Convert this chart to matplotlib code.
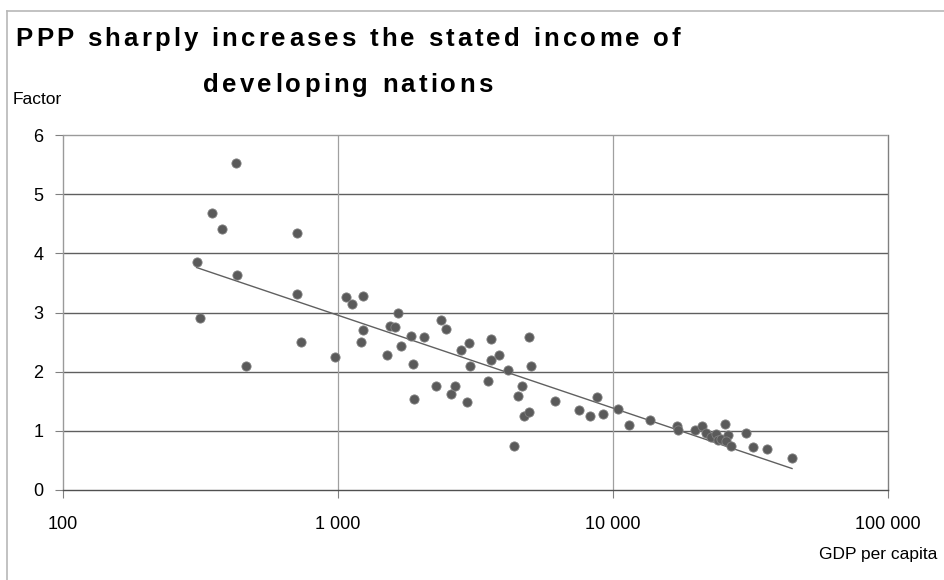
import matplotlib.pyplot as plt
from matplotlib.lines import Line2D
from matplotlib.ticker import FixedLocator, FuncFormatter
from matplotlib.font_manager import FontProperties, findfont, get_font
import numpy as np

# GDP per capita (US$) and PPP factor per country
gdp = [306, 314, 348, 380, 427, 430, 462, 712, 712, 736,
       977, 1071, 1120, 1228, 1228, 1215, 1511, 1544, 1616, 1648,
       1690, 1848, 1873, 1888, 2049, 2272, 2377, 2465, 2570, 2673,
       2811, 2946, 2988, 3013, 3504, 3615, 3615, 3853, 4156, 4348,
       4496, 4649, 4751, 4930, 4930, 5040, 6133, 7499, 8226, 8722,
       9220, 10428, 11438, 13603, 17061, 17204, 19845, 21150, 21820, 22750,
       23730, 24190, 24750, 25480, 26170, 25800, 26800, 30400, 32400, 36190,
       44770]
factor = [3.86, 2.91, 4.69, 4.41, 5.53, 3.63, 2.09, 4.34, 3.32, 2.50,
          2.24, 3.26, 3.15, 3.28, 2.70, 2.50, 2.28, 2.78, 2.76, 3.00,
          2.43, 2.61, 2.13, 1.53, 2.59, 1.75, 2.87, 2.72, 1.63, 1.75,
          2.37, 1.48, 2.48, 2.09, 1.85, 2.56, 2.20, 2.28, 2.03, 0.75,
          1.59, 1.75, 1.25, 2.59, 1.31, 2.09, 1.50, 1.36, 1.25, 1.57,
          1.28, 1.37, 1.10, 1.18, 1.08, 1.01, 1.01, 1.08, 0.96, 0.90,
          0.94, 0.85, 0.87, 1.12, 0.93, 0.83, 0.74, 0.97, 0.73, 0.70,
          0.54]

x_ticks = [100, 1000, 10000, 100000]
y_ticks = [0, 1, 2, 3, 4, 5, 6]
title_lines = ['PPP sharply increases the stated income of', 'developing nations']

W, H, DPI = 945, 580, 100
plt.rcParams['font.family'] = ['Liberation Sans', 'DejaVu Sans']


def tracked_text(fig, cx, base_y, s, size, gap):
    """Draw s centred on cx (pixels) with extra spacing between letters."""
    prop = FontProperties(family='Liberation Sans', weight='bold', size=size)
    font = get_font(findfont(prop))
    font.set_size(size, DPI)
    advs = [font.load_char(ord(c)).linearHoriAdvance / 65536 for c in s]
    x = cx - (sum(advs) + gap * (len(s) - 1)) / 2
    for c, a in zip(s, advs):
        if c != ' ':
            fig.text(x / W, 1 - base_y / H, c, fontproperties=prop,
                     ha='left', va='baseline')
        x += a + gap


fig = plt.figure(figsize=(W / DPI, H / DPI), dpi=DPI)
ax = fig.add_axes([63 / W, 1 - 490 / H, 825 / W, 355 / H])

# logarithmic trend line fitted on the data
gx = np.array(gdp, dtype=float)
gy = np.array(factor, dtype=float)
slope, icpt = np.polyfit(np.log10(gx), gy, 1)
xs = np.array([gx.min(), gx.max()])
ax.plot(xs, slope * np.log10(xs) + icpt, color='#606060', lw=1.0, zorder=3)

ax.scatter(gdp, factor, s=44, color='#5a5a5a', edgecolors='#808080',
           linewidths=0.6, zorder=4)

ax.set_xscale('log')
ax.set_xlim(100, 100000)
ax.set_ylim(0, 6)
ax.xaxis.set_major_locator(FixedLocator(x_ticks))
ax.xaxis.set_minor_locator(FixedLocator([]))
ax.xaxis.set_major_formatter(FuncFormatter(lambda v, p: f'{int(v):,}'.replace(',', ' ')))
ax.set_yticks(y_ticks)

# gridlines: dark horizontals, light verticals
for yv in y_ticks[1:-1]:
    ax.axhline(yv, color='#5f5f5f', lw=1.0, zorder=1)
for xv in x_ticks[1:-1]:
    ax.axvline(xv, color='#a0a0a0', lw=0.9, zorder=1)

for side in ['left', 'top']:
    ax.spines[side].set_color('#9a9a9a')
    ax.spines[side].set_linestyle((0, (1, 1)))
    ax.spines[side].set_linewidth(1.0)
ax.spines['right'].set_color('#808080')
ax.spines['right'].set_linewidth(1.0)
ax.spines['bottom'].set_color('#505050')
ax.spines['bottom'].set_linewidth(1.0)

ax.tick_params(axis='both', direction='out', length=6, width=0.8,
               color='#808080', labelsize=13, labelcolor='black')
ax.tick_params(axis='x', pad=13)
ax.tick_params(axis='y', pad=8)

tracked_text(fig, 348, 46, title_lines[0], 18.5, 3.2)
tracked_text(fig, 348, 92, title_lines[1], 18.5, 3.2)
fig.text(13 / W, 1 - 100 / H, 'Factor', ha='left', va='center', fontsize=12.5)
fig.text(937 / W, 1 - 555 / H, 'GDP per capita', ha='right', va='center',
         fontsize=12.5)

# outer frame: top and left edges only
fig.add_artist(Line2D([7 / W, 1.0], [1 - 11 / H, 1 - 11 / H],
                      color='#b8b8b8', lw=1.2, transform=fig.transFigure))
fig.add_artist(Line2D([7 / W, 7 / W], [0, 1 - 11 / H],
                      color='#b8b8b8', lw=1.2, transform=fig.transFigure))

fig.savefig('out.png', dpi=DPI)
